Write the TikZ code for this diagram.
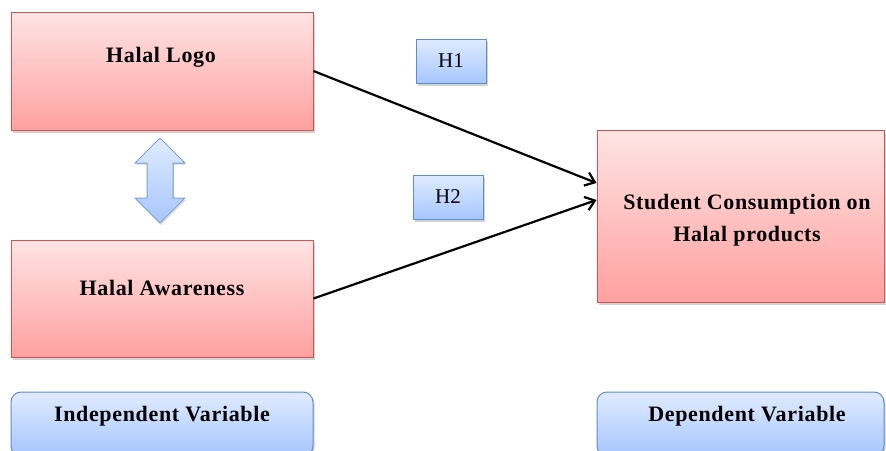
\documentclass[tikz,border=0pt]{standalone}
\usepackage{fontspec}
\setmainfont{Liberation Serif}
\newfontfamily\spacedfont[LetterSpace=3]{Liberation Serif}
\usetikzlibrary{arrows.meta,shadows}
\definecolor{pinktop}{RGB}{255,228,228}
\definecolor{pinkbot}{RGB}{255,160,160}
\definecolor{pinkline}{RGB}{205,85,85}
\definecolor{bluetop}{RGB}{224,235,255}
\definecolor{bluebot}{RGB}{166,198,255}
\definecolor{blueline}{RGB}{95,140,205}
\tikzset{
  pinkbox/.style={draw=pinkline, line width=1pt, top color=pinktop, bottom color=pinkbot,
    minimum width=#1, inner sep=0pt,
    drop shadow={shadow xshift=1.5pt, shadow yshift=-2.5pt, opacity=0.35}},
  bluebox/.style={draw=blueline, line width=1pt, top color=bluetop, bottom color=bluebot,
    inner sep=0pt,
    drop shadow={shadow xshift=1.5pt, shadow yshift=-2.5pt, opacity=0.35}},
  lbl/.style={font=\spacedfont\fontsize{22}{32}\selectfont\bfseries, align=center, inner sep=0pt},
  hlbl/.style={font=\fontsize{21}{25}\selectfont},
  conn/.style={line width=2.2pt, -{Straight Barb[length=9pt,width=14pt,line width=2.2pt]}},
}
\begin{document}
\begin{tikzpicture}[x=1pt,y=-1pt]
\useasboundingbox (0,0) rectangle (886,450);
% main boxes
\node[pinkbox=302pt, minimum height=118pt] (logo) at (162,71) {};
\node[pinkbox=302pt, minimum height=117pt] (aware) at (162,298.5) {};
\node[pinkbox=287pt, minimum height=172pt] (cons) at (740.5,216) {};
\node[lbl] (logot) at (161,57) {Halal Logo};
\node[lbl] (awaret) at (162,288) {Halal Awareness};
\node[lbl] (const) at (747,220) {Student Consumption on\\Halal products};
% bottom labels
\node[bluebox, rounded corners=10pt, minimum width=302pt, minimum height=64pt] (ind) at (162,424) {};
\node[lbl] (indt) at (162,416) {Independent Variable};
\node[bluebox, rounded corners=10pt, minimum width=287pt, minimum height=64pt] (dep) at (740.5,424) {};
\node[lbl] (dept) at (747,416) {Dependent Variable};
% hypothesis labels
\node[bluebox, minimum width=70pt, minimum height=44pt, hlbl] (h1) at (451,61) {H1};
\node[bluebox, minimum width=70pt, minimum height=44pt, hlbl] (h2) at (448,197) {H2};
% double arrow
\filldraw[draw=blueline!80, line width=1pt, line join=round, top color=bluetop, bottom color=bluebot,
  drop shadow={shadow xshift=1pt, shadow yshift=-2pt, opacity=0.25}]
  (160,138) -- (185,163) -- (173,163) -- (173,198) -- (185,198) -- (160,223)
  -- (135,198) -- (147,198) -- (147,163) -- (135,163) -- cycle;
% connectors
\draw[conn] (logo.east) -- ([yshift=33pt]cons.west);
\draw[conn] (aware.east) -- ([yshift=16pt]cons.west);
\end{tikzpicture}
\end{document}
